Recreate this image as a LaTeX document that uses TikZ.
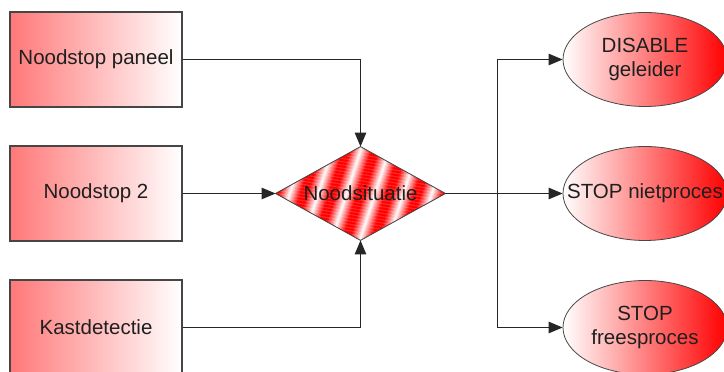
\documentclass[tikz,border=0pt]{standalone}
\usepackage{fontspec}
\setmainfont{Liberation Sans}
\usetikzlibrary{arrows.meta,shapes.geometric}
\definecolor{rectred}{RGB}{255,120,120}
\definecolor{edge}{RGB}{70,70,70}
\begin{document}
\begin{tikzpicture}[x=1pt,y=1pt,
  lbl/.style={font=\fontsize{20.5}{24}\selectfont, text=black!88, align=center, inner sep=0},
  inbox/.style={draw=edge, line width=1.1pt, minimum width=172pt, minimum height=95pt,
    left color=rectred, right color=white, inner sep=0},
  outcome/.style={ellipse, draw=edge, line width=0.8pt, minimum width=164pt, minimum height=94pt,
    inner sep=0, left color=white, right color=red},
  decision/.style={diamond, aspect=1.8, draw=edge, line width=0.8pt, minimum width=169pt,
    minimum height=93pt, inner sep=0},
  flow/.style={draw=black!85, line width=1pt},
  tip/.style={-{Triangle[length=14pt,width=11.5pt]}}
]
\clip (0,0) rectangle (724,372);
\fill[white] (0,0) rectangle (724,372);

% input boxes
\node[inbox] (r1) at (96,312.5) {};
\node[lbl] (r1t) at (r1) {Noodstop paneel};
\node[inbox] (r2) at (96,178.5) {};
\node[lbl] (r2t) at (r2) {Noodstop 2};
\node[inbox] (r3) at (96,44.5) {};
\node[lbl] (r3t) at (r3) {Kastdetectie};

% decision: diagonal red/white bands clipped to the diamond
\node[decision] (d) at (360.5,178.5) {};
\begin{scope}
  \clip (d.north) -- (d.east) -- (d.south) -- (d.west) -- cycle;
  \begin{scope}[shift={(d.center)}, rotate=-18]
    \foreach \k in {-9,...,8}{
      \foreach \j in {0,...,26}{
        \pgfmathsetmacro\p{min(100,abs(\j-13.5)*100/10)}
        \fill[red!\p!white] (\k*27+\j,-120) rectangle ++(1.1,240);
      }
    }
  \end{scope}
\end{scope}
\draw[edge, line width=0.8pt] (d.north) -- (d.east) -- (d.south) -- (d.west) -- cycle;
\node[lbl] (dt) at (d) {Noodsituatie};

% outcomes
\node[outcome] (e1) at (645,312.5) {};
\node[lbl] (e1t) at (e1) {DISABLE\\geleider};
\node[outcome] (e2) at (645,178.5) {};
\node[lbl] (e2t) at (e2) {STOP nietproces};
\node[outcome] (e3) at (645,44.5) {};
\node[lbl] (e3t) at (e3) {STOP\\freesproces};

% connectors
\draw[flow,tip] (r1.east) -| (d.north);
\draw[flow,tip] (r2.east) -- (d.west);
\draw[flow,tip] (r3.east) -| (d.south);

\coordinate (j) at (497,178.5);
\draw[flow] (d.east) -- (j);
\draw[flow,tip] (j) |- (e1.west);
\draw[flow,tip] (j) -- (e2.west);
\draw[flow,tip] (j) |- (e3.west);
\end{tikzpicture}
\end{document}
